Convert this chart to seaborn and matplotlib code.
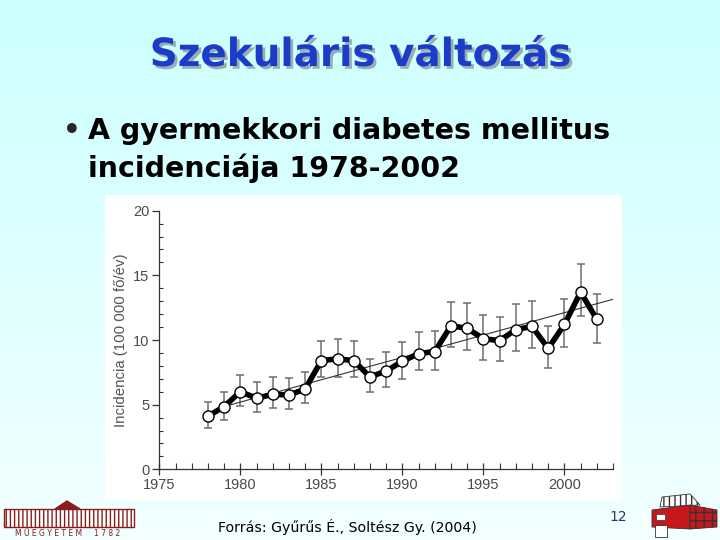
import numpy as np
import pandas as pd
import matplotlib
matplotlib.use('Agg')
import matplotlib.pyplot as plt
import seaborn as sns
import matplotlib.patheffects as pe
from matplotlib.patches import Rectangle, Polygon
from matplotlib.ticker import MultipleLocator

# adatok (leolvasva az ábráról)
years = list(range(1978, 2003))
incidence = [4.1, 4.85, 6.0, 5.5, 5.8, 5.75, 6.2, 8.4, 8.55, 8.4,
             7.15, 7.6, 8.35, 8.95, 9.1, 11.1, 10.9, 10.1, 9.95, 10.8,
             11.05, 9.35, 11.2, 13.7, 11.6]
ci_high = [5.2, 5.95, 7.3, 6.75, 7.1, 7.05, 7.5, 9.9, 10.05, 9.9,
           8.55, 9.05, 9.85, 10.65, 10.7, 12.95, 12.9, 11.9, 11.8, 12.75,
           13.0, 11.1, 13.2, 15.9, 13.55]
ci_low = [3.2, 3.8, 4.9, 4.45, 4.75, 4.65, 5.1, 7.15, 7.15, 7.15,
          5.95, 6.35, 7.0, 7.65, 7.7, 9.45, 9.2, 8.45, 8.4, 9.15,
          9.35, 7.85, 9.45, 11.85, 9.75]
trend_years = [1979, 2003]
trend_values = [4.85, 13.15]

df = pd.DataFrame({'ev': years, 'inc': incidence, 'lo': ci_low, 'hi': ci_high})
df_trend = pd.DataFrame({'ev': trend_years, 'inc': trend_values})

sns.set_style('ticks')
plt.rcParams['font.family'] = ['DejaVu Sans']

fig = plt.figure(figsize=(7.2, 5.4), dpi=100)

# háttér színátmenet
bg = fig.add_axes([0, 0, 1, 1], zorder=-10)
grad = np.linspace(0, 1, 256).reshape(-1, 1)
top = np.array([0.80, 1.0, 1.0])
bottom = np.array([0.95, 1.0, 1.0])
img = top + (bottom - top) * grad[:, :, None]
bg.imshow(img, aspect='auto', extent=[0, 1, 0, 1])
bg.set_xlim(0, 1)
bg.set_ylim(0, 1)
bg.axis('off')

# fehér kép-háttér
fig.patches.append(Rectangle((105 / 720, 1 - 500 / 540), 517 / 720, 305 / 540,
                             transform=fig.transFigure, facecolor='white',
                             edgecolor='none', zorder=-5))

# cím árnyékkal
fig.text(0.5, 1 - 55 / 540, 'Szekuláris változás', ha='center', va='center',
         fontsize=28, fontweight='bold', color='#1a3cc8',
         path_effects=[pe.withSimplePatchShadow(offset=(2, -2), shadow_rgbFace='#8a9a9c', alpha=0.8)])

fig.text(63 / 720, 1 - 131 / 540, '•', ha='left', va='center', fontsize=20, fontweight='bold')
fig.text(88 / 720, 1 - 131 / 540, 'A gyermekkori diabetes mellitus', ha='left', va='center',
         fontsize=20.5, fontweight='bold', color='black')
fig.text(88 / 720, 1 - 168 / 540, 'incidenciája 1978-2002', ha='left', va='center',
         fontsize=20.5, fontweight='bold', color='black')

# diagram
ax = fig.add_axes([159.3 / 720, 1 - 469.3 / 540, (613 - 159.3) / 720, (469.3 - 210.7) / 540])
ax.patch.set_alpha(0)

ax.errorbar(df['ev'], df['inc'], yerr=[df['inc'] - df['lo'], df['hi'] - df['inc']],
            fmt='none', ecolor='#6e6e6e', elinewidth=1.1, capsize=3, capthick=1.1, zorder=1)
sns.lineplot(data=df_trend, x='ev', y='inc', ax=ax, color='#333333', linewidth=0.8, zorder=2)
sns.lineplot(data=df, x='ev', y='inc', ax=ax, color='black', linewidth=4, marker='o',
             markersize=8, markerfacecolor='white', markeredgecolor='black',
             markeredgewidth=1.0, zorder=3)

ax.set_xlim(1975, 2003)
ax.set_ylim(0, 20)
ax.xaxis.set_major_locator(MultipleLocator(5))
ax.xaxis.set_minor_locator(MultipleLocator(1))
ax.yaxis.set_major_locator(MultipleLocator(5))
ax.yaxis.set_minor_locator(MultipleLocator(1))
ax.tick_params(axis='x', which='major', direction='inout', length=8, width=0.9, color='#333333',
               labelsize=10.5, labelcolor='#4a4a4a', pad=2)
ax.tick_params(axis='x', which='minor', direction='in', length=4, width=0.8, color='#333333')
ax.tick_params(axis='y', which='major', direction='out', length=5, width=0.9, color='#333333',
               labelsize=10.5, labelcolor='#4a4a4a', pad=2)
ax.tick_params(axis='y', which='minor', direction='in', length=3, width=0.8, color='#333333')
for t in ax.get_xticklabels() + ax.get_yticklabels():
    t.set_family(['Liberation Sans', 'DejaVu Sans'])
for s in ['left', 'bottom']:
    ax.spines[s].set_color('#333333')
    ax.spines[s].set_linewidth(0.9)
sns.despine(ax=ax)
ax.set_xlabel('')
ax.set_ylabel('Incidencia (100 000 fő/év)', fontsize=10.8, color='#555555',
              family=['Liberation Sans', 'DejaVu Sans'], labelpad=4)

# lábléc
fig.text(218 / 720, 1 - 527 / 540, 'Forrás: Gyűrűs É., Soltész Gy. (2004)', ha='left', va='center',
         fontsize=10.2, color='black')
fig.text(618 / 720, 1 - 517 / 540, '12', ha='center', va='center', fontsize=10, color='#1f3a7a')

# logók (egyszerűsítve)
maroon = '#8b1c1c'
fig.patches.append(Rectangle((4 / 720, 1 - 527 / 540), 130 / 720, 18 / 540, transform=fig.transFigure,
                             facecolor='white', edgecolor=maroon, hatch='||||', linewidth=1))
fig.patches.append(Polygon([(55 / 720, 1 - 509 / 540), (67 / 720, 1 - 501 / 540), (80 / 720, 1 - 509 / 540)],
                           closed=True, transform=fig.transFigure, facecolor=maroon, edgecolor=maroon))
fig.text(68 / 720, 1 - 533 / 540, 'M Ű E G Y E T E M     1 7 8 2', ha='center', va='center',
         fontsize=5.5, color=maroon)
red = '#c8161d'
fig.patches.append(Polygon([(660 / 720, 1 - 507 / 540), (662 / 720, 1 - 497 / 540), (690 / 720, 1 - 494 / 540),
                            (700 / 720, 1 - 505 / 540)],
                           closed=True, transform=fig.transFigure, facecolor='white', edgecolor='#333333',
                           linewidth=0.6, hatch='|||'))
fig.patches.append(Polygon([(652 / 720, 1 - 510 / 540), (690 / 720, 1 - 505 / 540), (690 / 720, 1 - 529 / 540),
                            (652 / 720, 1 - 527 / 540)],
                           closed=True, transform=fig.transFigure, facecolor=red, edgecolor='#333333',
                           linewidth=0.6))
fig.patches.append(Polygon([(690 / 720, 1 - 505 / 540), (717 / 720, 1 - 510 / 540), (717 / 720, 1 - 527 / 540),
                            (690 / 720, 1 - 529 / 540)],
                           closed=True, transform=fig.transFigure, facecolor=red, edgecolor='#333333',
                           linewidth=0.6, hatch='++'))
fig.patches.append(Rectangle((655 / 720, 1 - 537 / 540), 12 / 720, 12 / 540, transform=fig.transFigure,
                             facecolor='white', edgecolor='#333333', linewidth=0.6))
fig.patches.append(Rectangle((656 / 720, 1 - 520 / 540), 9 / 720, 6 / 540, transform=fig.transFigure,
                             facecolor='white', edgecolor='#333333', linewidth=0.5))

fig.savefig('out.png', dpi=100)
